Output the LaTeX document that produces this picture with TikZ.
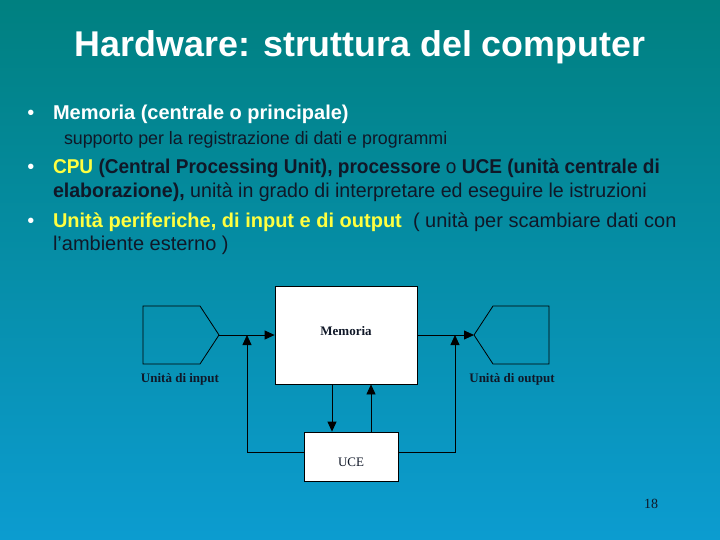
\documentclass[tikz,border=0pt]{standalone}
\usepackage{fontspec}
\setmainfont{Liberation Sans}
\newfontfamily\tnr{Liberation Serif}
\usetikzlibrary{arrows.meta}
\definecolor{bgtop}{HTML}{008080}
\definecolor{bgbot}{HTML}{0C9CD0}
\definecolor{ink}{HTML}{101828}
\definecolor{yel}{HTML}{FFFF40}
\begin{document}
\begin{tikzpicture}[x=1pt,y=-1pt,
  txt/.style={anchor=base west, inner sep=0pt, outer sep=0pt},
  box/.style={draw=black, fill=white, line width=0.8pt, inner sep=0pt},
  lbl/.style={text=ink, inner sep=0pt, anchor=base},
  conn/.style={line width=0.8pt, draw=black},
  tip/.style={-{Triangle[length=10pt,width=9pt]}}
]
\shade[top color=bgtop, bottom color=bgbot] (0,0) rectangle (720,540);
\useasboundingbox (0,0) rectangle (720,540);

% title
\node[txt, anchor=base, text=white, font=\bfseries\fontsize{35.8}{40}\selectfont] (title) at (360,57) {Hardware: struttura del computer};

% bullets
\node[txt, anchor=base, text=white, font=\fontsize{20}{22}\selectfont] (d1) at (31,120) {•};
\node[txt, anchor=base, text=white, font=\fontsize{20}{22}\selectfont] (d2) at (31,174) {•};
\node[txt, anchor=base, text=white, font=\fontsize{20}{22}\selectfont] (d3) at (31,228) {•};

\node[txt, text=white, font=\bfseries\fontsize{20}{22}\selectfont] (t1) at (53,120) {Memoria (centrale o principale)};
\node[txt, text=ink, font=\fontsize{18}{21}\selectfont] (t2) at (64,145) {\scalebox{0.99}[1]{supporto per la registrazione di dati e programmi}};
\node[txt, text=ink, font=\fontsize{20}{22}\selectfont] (t3) at (53,174) {\scalebox{0.953}[1]{\textcolor{yel}{\bfseries CPU} \textbf{(Central Processing Unit), processore} o \textbf{UCE (unità centrale di}}};
\node[txt, text=ink, font=\fontsize{20}{22}\selectfont] (t4) at (53,197) {\scalebox{0.98}[1]{\textbf{elaborazione),} unità in grado di interpretare ed eseguire le istruzioni}};
\node[txt, text=ink, font=\fontsize{20}{22}\selectfont] (t5) at (53,228) {\textcolor{yel}{\bfseries Unità periferiche, di input e di output}\ \ ( unità per scambiare dati con};
\node[txt, text=ink, font=\fontsize{20}{22}\selectfont] (t6) at (53,251) {l’ambiente esterno )};

% diagram boxes
\node[box, minimum width=142pt, minimum height=98pt] (mem) at (346,335) {};
\node[lbl, font=\tnr\bfseries\fontsize{13}{15}\selectfont] (memlbl) at (346,335) {Memoria};
\node[box, minimum width=94pt, minimum height=49pt] (uce) at (351,456.5) {};
\node[lbl, font=\tnr\fontsize{13}{15}\selectfont] (ucelbl) at (351,466) {UCE};

% input / output units
\draw[conn] (143,306) -- (200,306) -- (219,335) -- (200,364) -- (143,364) -- cycle;
\coordinate (intip) at (219,335);
\draw[conn] (474,335) -- (493,306) -- (549,306) -- (549,364) -- (493,364) -- cycle;
\coordinate (outtip) at (474,335);
\node[lbl, font=\tnr\bfseries\fontsize{13}{15}\selectfont] (inlbl) at (180,382) {Unità di input};
\node[lbl, font=\tnr\bfseries\fontsize{13}{15}\selectfont] (outlbl) at (512,382) {Unità di output};

% connectors
\coordinate (jl) at (247,335);
\coordinate (jr) at (455,335);
\coordinate (ul) at (304,452);
\coordinate (ur) at (398,452);
\coordinate (xd) at (332,0);
\coordinate (xu) at (371,0);
\draw[conn, tip] (intip) -- (mem.west);
\draw[conn, tip] (mem.east) -- (outtip);
\draw[conn, tip] (ul) -| (jl);
\draw[conn, tip] (ur) -| (jr);
\draw[conn, tip] (xd |- mem.south) -- (xd |- uce.north);
\draw[conn, tip] (xu |- uce.north) -- (xu |- mem.south);

% page number
\node[lbl, font=\tnr\fontsize{14}{16}\selectfont] (pg) at (651,508) {18};
\end{tikzpicture}
\end{document}
